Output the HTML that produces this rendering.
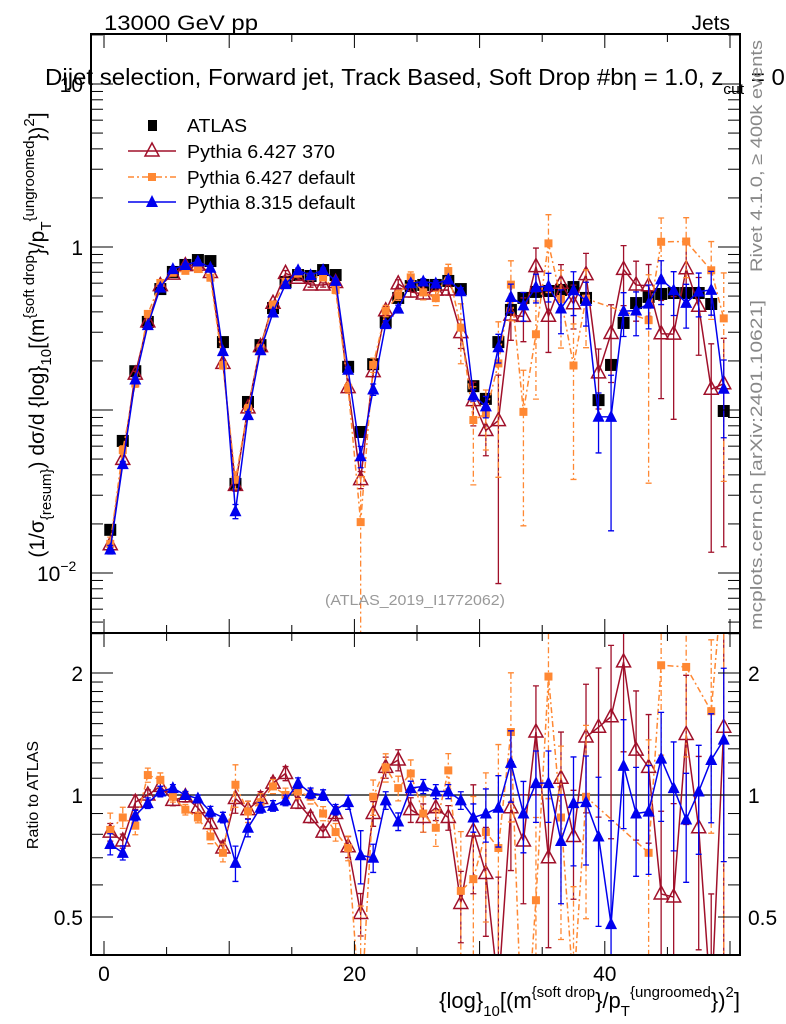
<!DOCTYPE html>
<html><head><meta charset="utf-8">
<style>
html,body{margin:0;padding:0;background:#fff;width:786px;height:1024px;overflow:hidden;}
svg{display:block;font-family:"Liberation Sans",sans-serif;}
</style></head>
<body>
<svg id="chart" width="786" height="1024" viewBox="0 0 786 1024" xmlns="http://www.w3.org/2000/svg">
<rect x="0" y="0" width="786" height="1024" fill="#fff"/>
<g id="main"></g>
<g id="ratio"></g>
<g id="axes"></g>
<text x="104" y="30" font-size="21" textLength="154" lengthAdjust="spacingAndGlyphs">13000 GeV pp</text>
<text x="730" y="30" font-size="21" text-anchor="end">Jets</text>
<text x="45" y="85" font-size="23" textLength="760" lengthAdjust="spacingAndGlyphs">Dijet selection, Forward jet, Track Based, Soft Drop #bη = 1.0, z<tspan font-size="15" dy="9">cut</tspan><tspan dy="-9"> = 0.1</tspan></text>
<text transform="translate(762,272) rotate(-90)" font-size="17" fill="#888" textLength="232" lengthAdjust="spacingAndGlyphs">Rivet 4.1.0, ≥ 400k events</text>
<text transform="translate(762,630) rotate(-90)" font-size="17" fill="#888" textLength="330" lengthAdjust="spacingAndGlyphs">mcplots.cern.ch [arXiv:2401.10621]</text>
<text x="415" y="605" font-size="15" fill="#999" text-anchor="middle" textLength="180" lengthAdjust="spacingAndGlyphs">(ATLAS_2019_I1772062)</text>
<text transform="translate(44,335) rotate(-90)" font-size="21" text-anchor="middle">(1/σ<tspan font-size="15" dy="7">{resum}</tspan><tspan dy="-7">) dσ/d {log}</tspan><tspan font-size="15" dy="7">10</tspan><tspan dy="-7">[(m</tspan><tspan font-size="15" dy="-10">{soft drop</tspan><tspan dy="10">}/p</tspan><tspan font-size="15" dy="7">T</tspan><tspan font-size="15" dy="-17">{ungroomed</tspan><tspan dy="10">})</tspan><tspan font-size="15" dy="-10">2</tspan><tspan dy="10">]</tspan></text>
<text transform="translate(38,795) rotate(-90)" font-size="16" text-anchor="middle">Ratio to ATLAS</text>
<text x="740" y="1008" font-size="22" text-anchor="end">{log}<tspan font-size="15" dy="8">10</tspan><tspan dy="-8">[(m</tspan><tspan font-size="15" dy="-11">{soft drop</tspan><tspan dy="11">}/p</tspan><tspan font-size="15" dy="8">T</tspan><tspan font-size="15" dy="-19">{ungroomed</tspan><tspan dy="11">})</tspan><tspan font-size="15" dy="-11">2</tspan><tspan dy="11">]</tspan></text>
<g id="legend"></g>
</svg>
<script>
const atlas=[0.0184,0.0646,0.173,0.347,0.552,0.703,0.776,0.832,0.82,0.261,0.0352,0.112,0.250,0.422,0.610,0.673,0.664,0.722,0.673,0.184,0.0733,0.191,0.347,0.487,0.576,0.585,0.585,0.619,0.552,0.140,0.117,0.261,0.411,0.487,0.530,0.537,0.545,0.568,0.487,0.115,0.189,0.342,0.453,0.494,0.515,0.522,0.522,0.522,0.447,0.0986];
const ratioRed=[0.81,0.77,0.96,1.0,1.05,0.97,0.99,0.93,0.85,0.74,0.98,0.92,0.98,1.07,1.13,0.955,0.88,0.81,0.9,0.745,0.51,0.9,1.17,1.22,0.92,0.88,0.93,0.88,0.54,0.815,0.64,0.33,0.93,0.77,1.43,0.70,1.1,0.79,1.39,1.47,1.56,2.13,1.29,1.17,0.57,0.56,1.41,0.83,0.3,1.47];
const ratioOrange=[0.82,0.88,0.84,1.12,1.09,0.99,0.92,0.88,0.79,0.72,1.06,0.91,0.96,1.05,1.0,1.02,0.99,0.9,0.81,0.74,0.28,0.99,1.17,1.04,1.13,0.9,0.83,1.15,0.58,0.62,0.81,0.74,1.43,0.2,0.55,1.96,0.88,0.33,0.99,null,null,null,null,0.72,2.09,null,2.07,null,1.61,3.7];
const ratioBlue=[0.757,0.72,0.89,0.955,1.02,1.04,1.0,0.98,0.91,0.88,0.68,0.83,0.93,0.94,0.97,1.07,1.01,1.0,0.92,0.96,0.71,0.70,0.97,0.86,1.04,1.05,1.02,1.02,0.97,0.88,0.90,0.93,1.2,0.9,1.07,1.07,0.77,0.955,0.96,0.79,0.48,1.18,0.9,0.91,1.23,1.04,0.87,1.02,1.22,1.37];
const errRed=[0.05,0.04,0.04,0.03,0.03,0.03,0.03,0.03,0.03,0.04,0.08,0.05,0.04,0.03,0.04,0.03,0.03,0.03,0.04,0.06,0.12,0.07,0.06,0.06,0.07,0.08,0.07,0.07,0.2,0.3,0.3,0.9,0.3,0.3,0.3,0.4,0.3,0.3,0.35,0.4,0.5,0.4,0.4,0.35,0.6,0.7,0.4,0.5,0.9,0.9];
const errOrange=[0.1,0.06,0.05,0.04,0.04,0.03,0.03,0.03,0.04,0.05,0.12,0.06,0.05,0.04,0.04,0.04,0.04,0.04,0.05,0.07,0.9,0.1,0.08,0.07,0.08,0.1,0.1,0.1,0.4,0.6,0.4,0.8,0.4,0.8,0.6,0.5,0.5,0.8,0.5,0,0,0,0,0.9,0.4,0,0.4,0,0.5,0.9];
const errBlue=[0.06,0.04,0.03,0.03,0.03,0.02,0.02,0.02,0.03,0.03,0.1,0.05,0.03,0.03,0.03,0.03,0.03,0.03,0.03,0.04,0.15,0.08,0.05,0.05,0.04,0.04,0.04,0.04,0.05,0.08,0.15,0.2,0.2,0.2,0.2,0.2,0.3,0.3,0.3,0.4,0.8,0.3,0.3,0.3,0.3,0.3,0.3,0.3,0.3,0.5];
const xTickLabels=["0","20","40"];
const xTickLabelVals=[0,20,40];
const ratioTickVals=[0.5,1,2];
const ratioTickLabels=["0.5","1","2"];

const NS="http://www.w3.org/2000/svg";
const L=91,R=740,MT=34,MB=633,RB=955;
const X=v=>104+12.52*v;
const YM=v=>247-163*Math.log10(v);
const YR=v=>795-122*Math.log2(v);
function el(tag,at,parent){const e=document.createElementNS(NS,tag);for(const k in at)e.setAttribute(k,at[k]);parent.appendChild(e);return e;}
const main=document.getElementById('main'),ratio=document.getElementById('ratio'),axes=document.getElementById('axes'),legend=document.getElementById('legend');
const defs=el('defs',{},document.getElementById('chart'));
const c1=el('clipPath',{id:'cm'},defs);el('rect',{x:L,y:MT,width:R-L,height:MB-MT},c1);
const c2=el('clipPath',{id:'cr'},defs);el('rect',{x:L,y:MB,width:R-L,height:RB-MB},c2);
main.setAttribute('clip-path','url(#cm)');ratio.setAttribute('clip-path','url(#cr)');

const series=[
 {name:'pythia6-370',ratio:ratioRed,err:errRed,color:'#a0102a',dash:'',marker:'tri-open'},
 {name:'pythia6-default',ratio:ratioOrange,err:errOrange,color:'#ff8833',dash:'6,3,2,3',marker:'square'},
 {name:'pythia8-default',ratio:ratioBlue,err:errBlue,color:'#0000ee',dash:'',marker:'tri'}
];
function marker(g,type,x,y,color,name){
 let m;
 if(type==='square'){m=el('rect',{x:x-4,y:y-4,width:8,height:8,fill:color},g);}
 else if(type==='bsquare'){m=el('rect',{x:x-6,y:y-6,width:12,height:12,fill:'#000'},g);}
 else if(type==='tri'){m=el('polygon',{points:`${x},${y-7} ${x-6},${y+5} ${x+6},${y+5}`,fill:color},g);}
 else {m=el('polygon',{points:`${x},${y-8} ${x-7},${y+5} ${x+7},${y+5}`,fill:'none',stroke:color,'stroke-width':1.5},g);}
 
 
}
function drawPanel(g,Y,isRatio){
 series.forEach(s=>{
  const sg=el('g',{},g);
  
  
  const pts=[];
  s.ratio.forEach((r,i)=>{ if(r===null)return;
   const v=isRatio?r:r*atlas[i];
   const x=X(i+0.5),y=Y(v);
   pts.push(x+','+y);
   const e=s.err[i];
   if(e>0){const vl=Math.max(v*(1-e),1e-6),vh=v*(1+e);
    const eb=el('path',{d:`M${x},${Y(vh)}V${Y(vl)}M${x-3},${Y(vh)}H${x+3}M${x-3},${Y(vl)}H${x+3}`,stroke:s.color,'stroke-width':1.3,'stroke-dasharray':s.dash,fill:'none'},sg);
    
    }
  });
  const pl=el('polyline',{points:pts.join(' '),fill:'none',stroke:s.color,'stroke-width':1.5,'stroke-dasharray':s.dash},sg);
  
  
  s.ratio.forEach((r,i)=>{ if(r===null)return;
   const v=isRatio?r:r*atlas[i];
   marker(sg,s.marker,X(i+0.5),Y(v),s.color,'point');
  });
 });
}
const ag=el('g',{},main);


atlas.forEach((v,i)=>marker(ag,'bsquare',X(i+0.5),YM(v),'#000','atlas-point'));
drawPanel(main,YM,false);
const one=el('line',{x1:L,x2:R,y1:YR(1),y2:YR(1),stroke:'#000','stroke-width':1.3},ratio);


drawPanel(ratio,YR,true);

[[MT,MB],[MB,RB]].forEach(([t,b])=>{const f=el('rect',{x:L,y:t,width:R-L,height:b-t,fill:'none',stroke:'#000','stroke-width':2},axes);});
for(let v=0;v<=50;v+=5){const x=X(v),len=(v%10===0)?14:8;
 [[MT,1],[MB,-1],[MB,1],[RB,-1]].forEach(([y0,d])=>el('line',{x1:x,x2:x,y1:y0,y2:y0+d*len,stroke:'#000','stroke-width':1},axes));}
xTickLabelVals.forEach((v,i)=>{const t=el('text',{x:X(v),y:981,'font-size':21,'text-anchor':'middle'},axes);t.textContent=xTickLabels[i];});
for(let d=-3;d<=1;d++){for(let k=1;k<10;k++){const v=k*Math.pow(10,d),y=YM(v);if(y<MT||y>MB)continue;const len=k===1?22:12;
 el('line',{x1:L,x2:L+len,y1:y,y2:y,stroke:'#000'},axes);el('line',{x1:R,x2:R-len,y1:y,y2:y,stroke:'#000'},axes);}}
[[10,'10'],[1,'1']].forEach(([v,s])=>{const t=el('text',{x:L-8,y:YM(v)+8,'font-size':21,'text-anchor':'end'},axes);t.textContent=s;});
{const t=el('text',{x:L-54,y:YM(0.01)+8,'font-size':21},axes);t.textContent='10';const s=el('tspan',{'font-size':14,dy:-10},t);s.textContent='−2';}
[0.4,0.5,0.6,0.7,0.8,0.9,1,1.1,1.2,1.3,1.4,1.5,1.6,1.7,1.8,1.9,2,2.5].forEach(v=>{const y=YR(v);if(y<MB||y>RB)return;const len=(v===0.5||v===1||v===2)?22:12;
 el('line',{x1:L,x2:L+len,y1:y,y2:y,stroke:'#000'},axes);el('line',{x1:R,x2:R-len,y1:y,y2:y,stroke:'#000'},axes);});
ratioTickVals.forEach((v,i)=>{[[L-8,'end'],[R+8,'start']].forEach(([x,a])=>{const t=el('text',{x:x,y:YR(v)+8,'font-size':21,'text-anchor':a},axes);t.textContent=ratioTickLabels[i];});});
const leg=[['ATLAS','#000','','bsquare'],['Pythia 6.427 370','#a0102a','','tri-open'],['Pythia 6.427 default','#ff8833','6,3,2,3','square'],['Pythia 8.315 default','#0000ee','','tri']];
const ly=[125,151,177,202];
const lw=[60,148,168,168];
leg.forEach((e,i)=>{const g=el('g',{},legend);
 if(i>0)el('line',{x1:128,x2:176,y1:ly[i],y2:ly[i],stroke:e[1],'stroke-width':1.5,'stroke-dasharray':e[2]},g);
 if(e[3]==='bsquare')el('rect',{x:148,y:ly[i]-5,width:9,height:11,fill:'#000'},g);else marker(g,e[3],152,ly[i],e[1],'legend-marker');
 const t=el('text',{x:187,y:ly[i]+7,'font-size':18,textLength:lw[i],lengthAdjust:'spacingAndGlyphs'},g);t.textContent=e[0];});
</script>
</body></html>
